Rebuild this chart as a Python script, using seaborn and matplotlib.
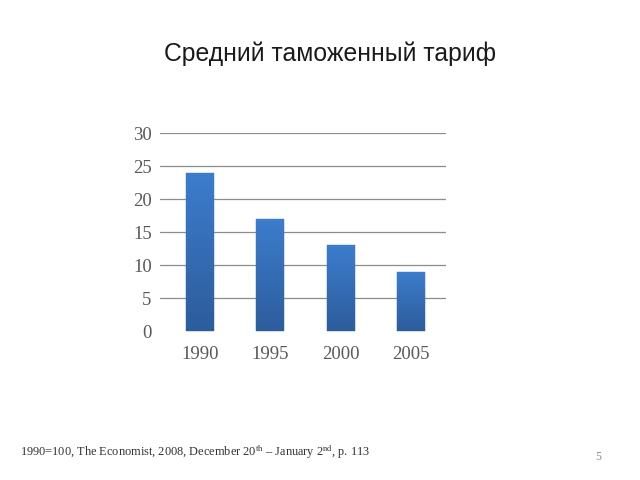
import numpy as np
import pandas as pd
import matplotlib
matplotlib.use("Agg")
import matplotlib.pyplot as plt
import seaborn as sns
from matplotlib.colors import LinearSegmentedColormap

years = ["1990", "1995", "2000", "2005"]
tariff = [24, 17, 13, 9]
yticks = [0, 5, 10, 15, 20, 25, 30]
title = "Средний таможенный тариф"
footnote = r"1990=100, The Economist, 2008, December 20$^{\mathrm{th}}$ – January 2$^{\mathrm{nd}}$, p. 113"
page = "5"

sns.set_theme(style="white")
plt.rcParams["mathtext.fontset"] = "custom"
plt.rcParams["mathtext.rm"] = "Liberation Serif"
plt.rcParams["mathtext.it"] = "Liberation Serif:italic"

df = pd.DataFrame({"year": years, "tariff": tariff})

fig = plt.figure(figsize=(6.4, 4.8), dpi=100)
ax = fig.add_axes([0.25, 0.3104, 0.447, 0.4125])

for y in yticks[1:]:
    ax.axhline(y, color="#8C8C8C", lw=0.9, zorder=0)

sns.barplot(data=df, x="year", y="tariff", color="#3570B8", width=0.4,
            saturation=1, ax=ax, zorder=3, linewidth=0)

# vertical gradient shading laid over each seaborn bar (geometry taken from the bar)
cmap = LinearSegmentedColormap.from_list("g", ["#2C5C9C", "#3C7CCC"])
n_strips = 60
for p in list(ax.patches):
    x0, y0 = p.get_x(), p.get_y()
    w, h = p.get_width(), p.get_height()
    edges = np.linspace(y0, y0 + h, n_strips + 1)
    for i in range(n_strips):
        ax.fill_between([x0, x0 + w], edges[i], edges[i + 1],
                        color=cmap(i / (n_strips - 1)), lw=0.3,
                        edgecolor=cmap(i / (n_strips - 1)), zorder=4)

ax.set_xlim(-0.57, 3.5)
ax.set_ylim(0, 30)
ax.set_yticks(yticks)
ax.set_xlabel("")
ax.set_ylabel("")
for s in ax.spines.values():
    s.set_visible(False)

ax.tick_params(axis="y", labelsize=13.5, labelcolor="#595959", length=0, pad=6)
ax.tick_params(axis="x", labelsize=13.5, labelcolor="#595959", length=0, pad=11)
for lbl in ax.get_xticklabels() + ax.get_yticklabels():
    lbl.set_fontfamily("Liberation Serif")

fig.text(0.516, 0.889, title, ha="center", va="center",
         fontsize=17.8, family="Liberation Sans", color="#1a1a1a")
fig.text(0.031, 0.058, footnote, ha="left", va="center",
         fontsize=8.9, family="Liberation Serif", color="#333333")
fig.text(0.934, 0.048, page, ha="center", va="center",
         fontsize=8.5, family="Liberation Serif", color="#8C8C8C")

fig.savefig("out.png", dpi=100)
